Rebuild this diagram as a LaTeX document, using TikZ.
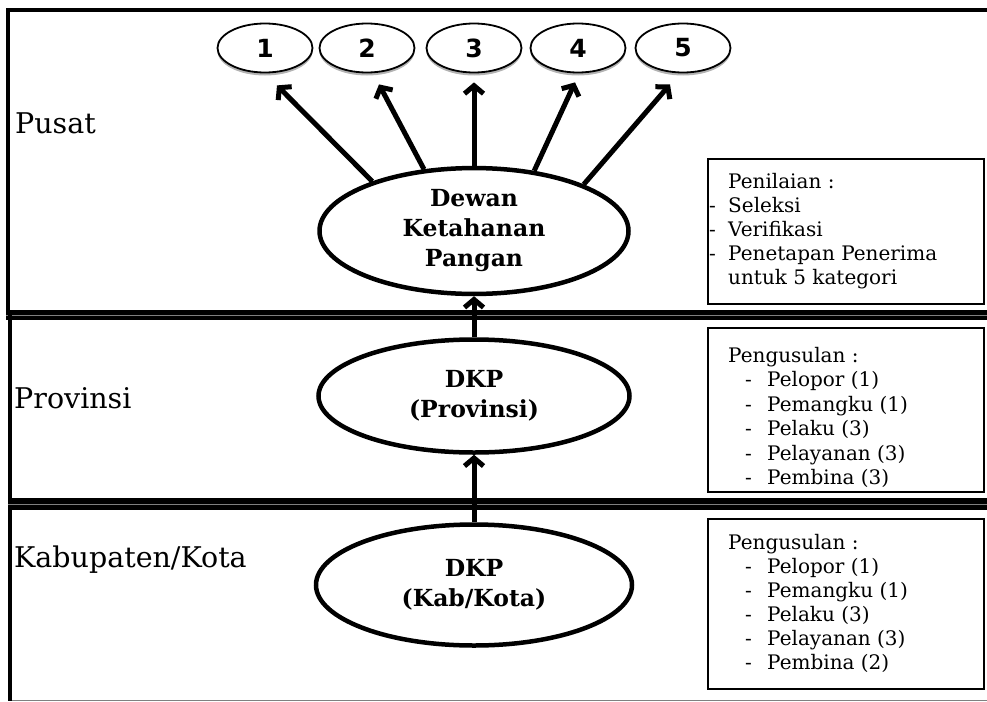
\documentclass[tikz,border=0pt]{standalone}
\usepackage{fontspec}
\setmainfont{DejaVu Serif}
\newfontfamily\numfont{DejaVu Sans}
\usetikzlibrary{shapes.geometric, arrows.meta, shadows}

\newcommand{\itm}[1]{\hspace*{17pt}\makebox[22pt][l]{-}#1}
\newcommand{\dsh}[1]{\llap{\makebox[19pt][l]{-}}#1}

\begin{document}
\begin{tikzpicture}[x=1pt, y=-1pt,
  bigoval/.style={ellipse, draw, line width=4.5pt, align=center,
    font=\fontsize{23.5}{30}\selectfont\bfseries},
  kat/.style={ellipse, draw, line width=1.8pt, fill=white,
    minimum width=95pt, minimum height=49pt,
    font=\numfont\fontsize{25}{25}\selectfont\bfseries,
    drop shadow={shadow xshift=0pt, shadow yshift=-3pt, fill=gray, opacity=0.6}},
  infobox/.style={draw, line width=1.6pt, minimum width=276pt, anchor=north west},
  listtext/.style={anchor=north west, inner sep=0pt, align=left,
    font=\fontsize{20}{24}\selectfont},
  lvl/.style={anchor=base west, inner sep=0pt, font=\fontsize{28.5}{32}\selectfont},
  band/.style={line width=4.5pt, double=gray, double distance=0.8pt},
  uparrow/.style={line width=5pt, -{Straight Barb[length=8pt, width=19pt]}},
]
\useasboundingbox (0,0) rectangle (987,701);

% frame and level bands
\draw[line width=4.5pt] (8,315) -- (8,10) -- (987,10);
\draw[band] (6,315) -- (987,315);
\draw[line width=4.5pt] (10,315) -- (10,701);
\draw[band, line width=5.5pt] (8,504) -- (987,504);
\draw[gray, line width=1pt] (12,700) -- (987,700);

% levels
\node[lvl] (lpusat) at (15,133) {Pusat};
\node[lvl] (lprov) at (14,408) {Provinsi};
\node[lvl] (lkab) at (14,567) {Kabupaten/Kota};

% categories
\node[kat] (k1) at (265,48) {1};
\node[kat] (k2) at (367,48) {2};
\node[kat] (k3) at (474,48) {3};
\node[kat] (k4) at (578,48) {4};
\node[kat] (k5) at (683,48) {5};

% councils
\node[bigoval, minimum width=309pt, minimum height=123pt] (dewan) at (474,231)
  {Dewan\\Ketahanan\\Pangan};
\node[bigoval, minimum width=311pt, minimum height=113pt] (prov) at (474,396)
  {DKP\\(Provinsi)};
\node[bigoval, minimum width=316pt, minimum height=121pt] (kab) at (474,585)
  {DKP\\(Kab/Kota)};

\draw[uparrow] (kab) -- (prov);
\draw[uparrow] (prov) -- (dewan);
\draw[uparrow] (dewan.154) -- ([xshift=12pt,yshift=-12pt]k1.south);
\draw[uparrow] (dewan.129) -- ([xshift=12pt,yshift=-11pt]k2.south);
\draw[uparrow] (dewan.90) -- ([yshift=-9pt]k3.south);
\draw[uparrow] (dewan.45) -- ([xshift=-3pt,yshift=-9pt]k4.south);
\draw[uparrow] (dewan.23) -- ([xshift=-13pt,yshift=-11pt]k5.south);

% notes on the right
\node[infobox, minimum height=145pt] (bpusat) at (707,158) {};
\node[listtext] (tpusat) at ([xshift=21pt,yshift=-15pt]bpusat.north west)
  {Penilaian :\\ \dsh{Seleksi}\\ \dsh{Verifikasi}\\ \dsh{Penetapan Penerima}\\ untuk 5 kategori};

\node[infobox, minimum height=164pt] (bprov) at (707,327) {};
\begin{scope}
  \clip ([yshift=1.6pt]bprov.south west) rectangle (bprov.north east);
  \node[listtext, font=\fontsize{20}{24.5}\selectfont] (tprov)
    at ([xshift=21pt,yshift=-20pt]bprov.north west)
    {Pengusulan :\\ \itm{Pelopor (1)}\\ \itm{Pemangku (1)}\\ \itm{Pelaku (3)}\\
     \itm{Pelayanan (3)}\\ \itm{Pembina (3)}};
\end{scope}

\node[infobox, minimum height=170pt] (bkab) at (707,518) {};
\node[listtext] (tkab) at ([xshift=21pt,yshift=-16pt]bkab.north west)
  {Pengusulan :\\ \itm{Pelopor (1)}\\ \itm{Pemangku (1)}\\ \itm{Pelaku (3)}\\
   \itm{Pelayanan (3)}\\ \itm{Pembina (2)}};
\end{tikzpicture}
\end{document}
